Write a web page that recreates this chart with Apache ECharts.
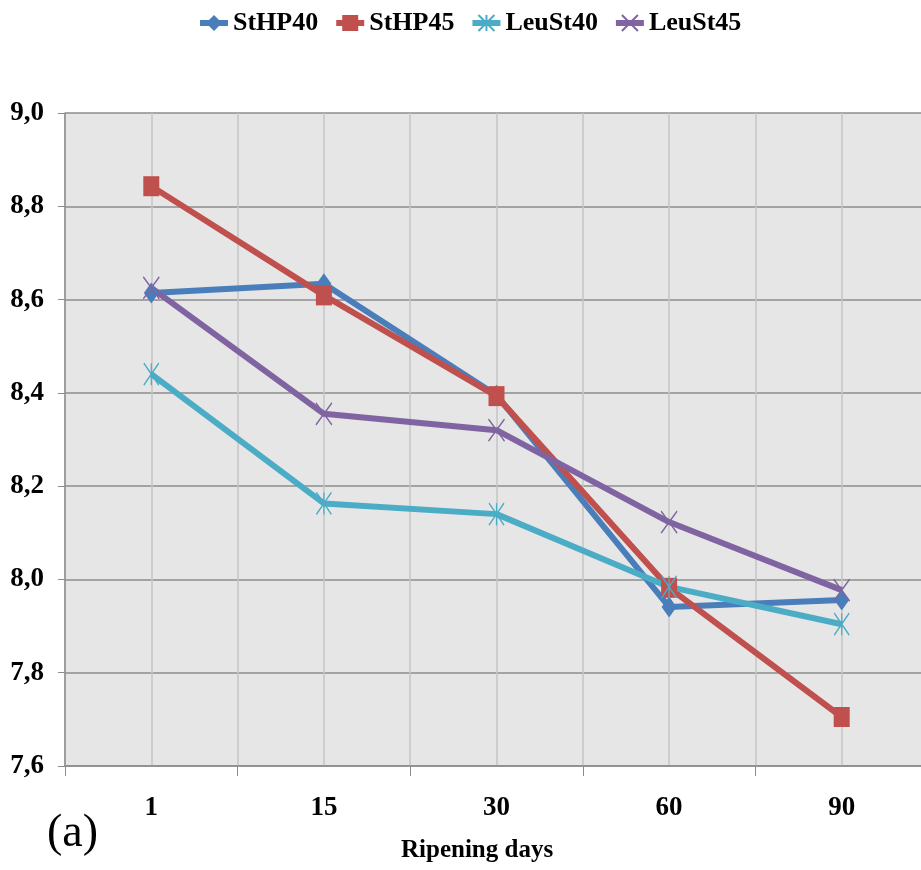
<!DOCTYPE html>
<html>
<head>
<meta charset="utf-8">
<script src="https://cdn.jsdelivr.net/npm/echarts@6/dist/echarts.min.js"></script>
<style>
html,body{margin:0;padding:0;background:#fff;overflow:hidden;width:921px;height:870px;}
#chart{width:940px;height:870px;}
</style>
</head>
<body>
<div id="chart"></div>
<script>
var days = ['1', '15', '30', '60', '90'];
var seriesNames = ['StHP40', 'StHP45', 'LeuSt40', 'LeuSt45'];
var stHP40 = [8.614, 8.634, 8.395, 7.941, 7.956];
var stHP45 = [8.843, 8.609, 8.393, 7.982, 7.705];
var leuSt40 = [8.440, 8.163, 8.140, 7.984, 7.904];
var leuSt45 = [8.625, 8.355, 8.320, 8.123, 7.977];
var yMin = 7.6, yMax = 9.0, yStep = 0.2;

var colors = ['#4a7ebb', '#c0504d', '#4bacc6', '#8064a2'];
var FONT = '"Liberation Serif", "Times New Roman", serif';
var ASTER = 'path://M0,0L20,20M20,0L0,20M10,0L10,20';
var CROSS = 'path://M0,0L20,20M20,0L0,20';

function mk(name, data, color, symbol, size, stroke) {
  return {
    name: name, type: 'line', data: data, xAxisIndex: 0, yAxisIndex: 0,
    symbol: symbol, symbolSize: size,
    lineStyle: { color: color, width: 6 },
    itemStyle: { color: color, borderColor: color, borderWidth: stroke ? 1.5 : 0 },
    emphasis: { disabled: true },
    animation: false
  };
}

var chart = echarts.init(document.getElementById('chart'));
chart.setOption({
  animation: false,
  color: colors,
  legend: {
    data: seriesNames,
    left: 192, top: 5,
    itemWidth: 28, itemHeight: 20, itemGap: 15,
    lineStyle: { width: 6 },
    textStyle: { fontFamily: FONT, fontWeight: 'bold', fontSize: 26, color: '#000' }
  },
  title: [
    { text: 'Ripening days', left: 396, top: 833,
      textStyle: { fontFamily: FONT, fontWeight: 'bold', fontSize: 25, color: '#000' } },
    { text: '(a)', left: 42, top: 806,
      textStyle: { fontFamily: FONT, fontWeight: 'normal', fontSize: 46, color: '#000' } }
  ],
  grid: {
    left: 65, top: 113, width: 863, height: 653,
    show: true, backgroundColor: '#e6e6e6', borderWidth: 0
  },
  xAxis: [
    {
      type: 'category', data: days, boundaryGap: true,
      axisLine: { show: true, lineStyle: { color: '#8c8c8c', width: 1.5 } },
      axisTick: { show: true, length: 10, lineStyle: { color: '#8c8c8c', width: 1 } },
      axisLabel: { margin: 29, fontFamily: FONT, fontWeight: 'bold', fontSize: 27, color: '#000' },
      splitLine: { show: false }
    },
    {
      type: 'value', min: 0, max: 10, interval: 1, position: 'bottom',
      axisLine: { show: false }, axisTick: { show: false }, axisLabel: { show: false },
      splitLine: { show: true, lineStyle: { color: '#c4c4c4', width: 1.5 } }
    }
  ],
  yAxis: {
    type: 'value', min: yMin, max: yMax, interval: yStep,
    axisLine: { show: true, lineStyle: { color: '#8c8c8c', width: 1.5 } },
    axisTick: { show: true, length: 7, lineStyle: { color: '#8c8c8c', width: 1 } },
    axisLabel: {
      margin: 21, fontFamily: FONT, fontWeight: 'bold', fontSize: 27, color: '#000',
      formatter: function (v) { return v.toFixed(1).replace('.', ','); }
    },
    splitLine: { show: true, lineStyle: { color: '#8c8c8c', width: 1.5 } }
  },
  series: [
    mk(seriesNames[0], stHP40, colors[0], 'diamond', [15, 21], false),
    mk(seriesNames[1], stHP45, colors[1], 'rect', [16, 20], false),
    mk(seriesNames[2], leuSt40, colors[2], ASTER, [15, 22], true),
    mk(seriesNames[3], leuSt45, colors[3], CROSS, [16, 22], true)
  ]
});
</script>
</body>
</html>
